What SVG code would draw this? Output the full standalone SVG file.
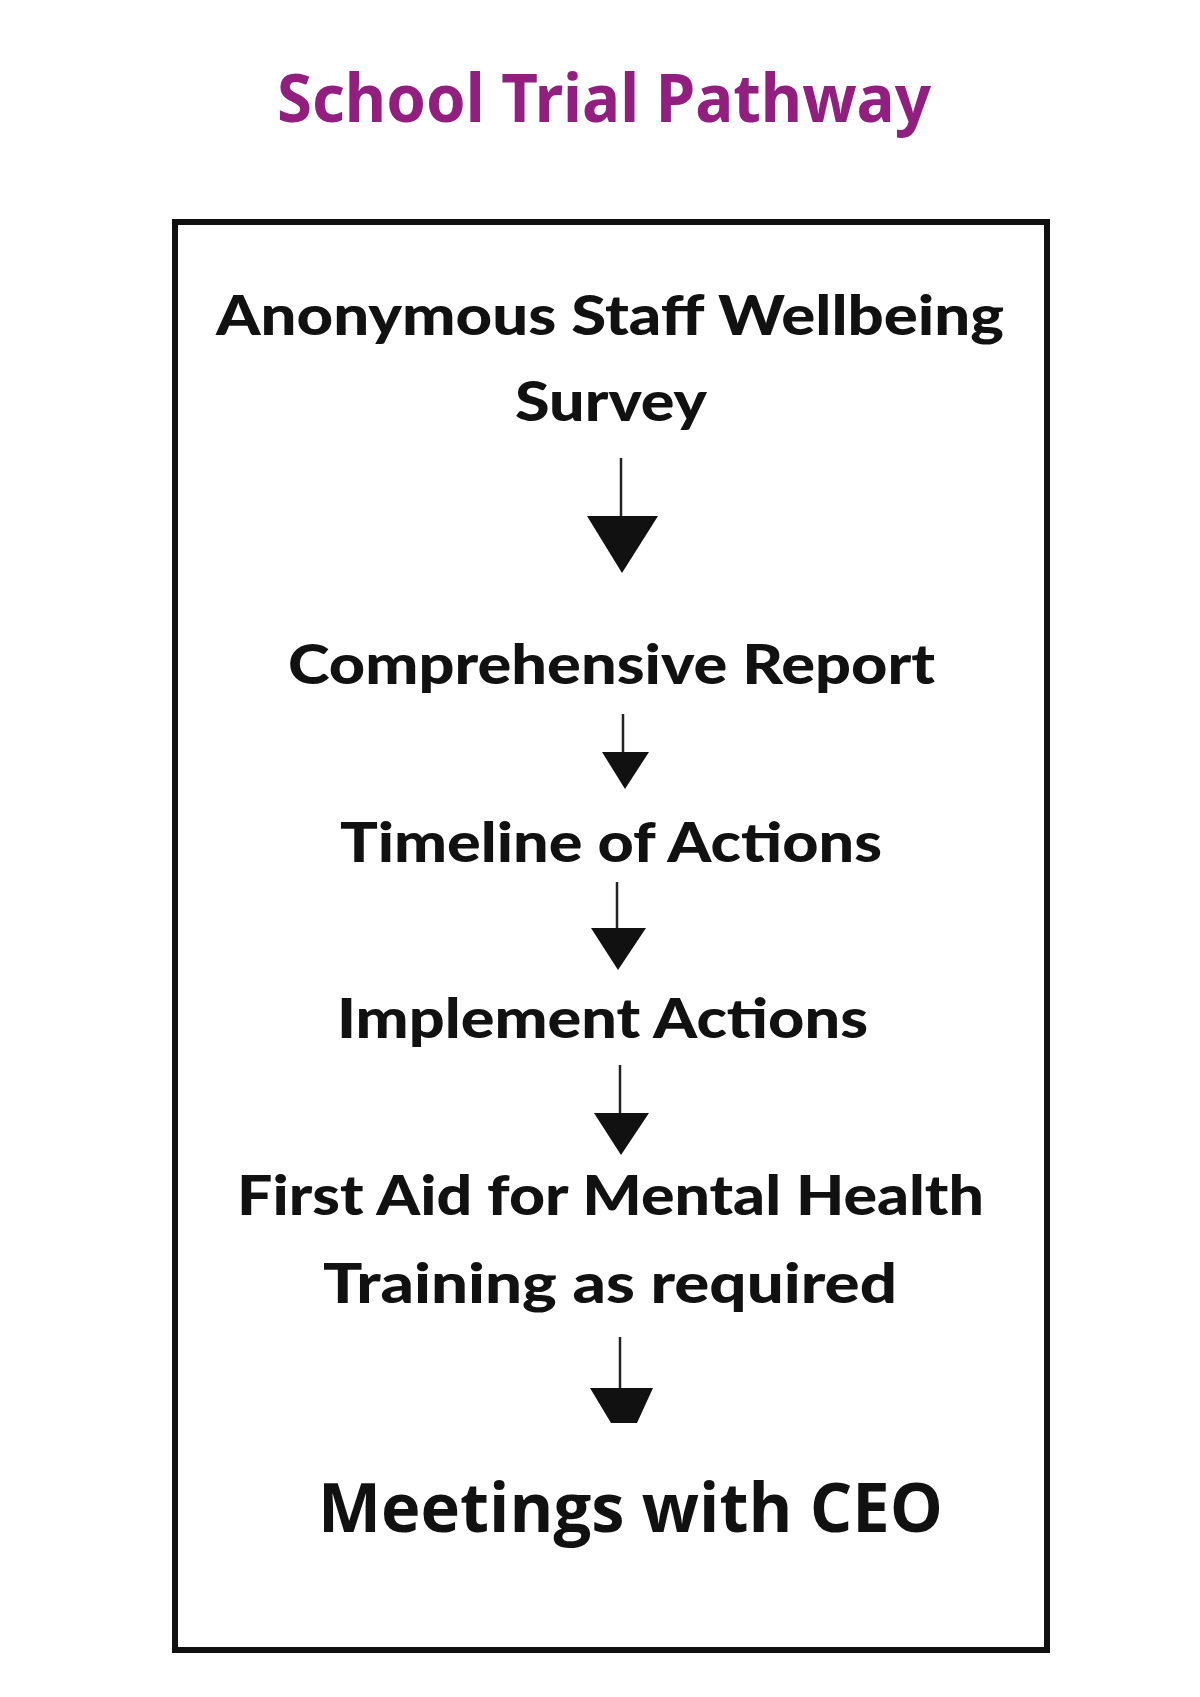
<svg xmlns="http://www.w3.org/2000/svg" width="1200" height="1697" viewBox="0 0 1200 1697">
<style>
.title{font-family:"Noto Sans","Open Sans","Liberation Sans",sans-serif;font-weight:700;font-size:66px;fill:#921f80}
.step{font-family:Lato,"Liberation Sans",sans-serif;font-weight:900;font-size:56px;fill:#111}
.ceo{font-family:"Open Sans","Noto Sans","Liberation Sans",sans-serif;font-weight:700;font-size:68px;fill:#111}
.frame{fill:#fff;stroke:#111;stroke-width:6}
.shaft{stroke:#222;stroke-width:2.5;fill:none}
.head{fill:#111;stroke:none}
</style>
<rect width="1200" height="1697" fill="#fff"/>
<g id="title">
<text class="title" x="277" y="122" textLength="654" lengthAdjust="spacingAndGlyphs">School Trial Pathway</text>
</g>
<g id="frame">
<rect class="frame" x="175" y="222" width="872" height="1428"/>
</g>
<g id="connectors">
<line class="shaft" x1="621" y1="458" x2="621" y2="520"/>
<polygon class="head" points="587,516 658,516 622,573"/>
<line class="shaft" x1="623" y1="714" x2="623" y2="755"/>
<polygon class="head" points="602,752 649,752 625,789"/>
<line class="shaft" x1="617" y1="882" x2="617" y2="932"/>
<polygon class="head" points="591,928 646,928 618,970"/>
<line class="shaft" x1="620" y1="1065" x2="620" y2="1116"/>
<polygon class="head" points="594,1113 649,1113 621,1155"/>
<line class="shaft" x1="620" y1="1337" x2="620" y2="1392"/>
<polygon class="head" points="590,1388 653,1388 637,1423 611,1423"/>
</g>
<g id="node-survey">
<text class="step" x="216" y="335" textLength="788" lengthAdjust="spacingAndGlyphs">Anonymous Staff Wellbeing</text>
<text class="step" x="515" y="421" textLength="192" lengthAdjust="spacingAndGlyphs">Survey</text>
</g>
<g id="node-report">
<text class="step" x="288" y="684" textLength="647" lengthAdjust="spacingAndGlyphs">Comprehensive Report</text>
</g>
<g id="node-timeline">
<text class="step" x="340" y="862" textLength="542" lengthAdjust="spacingAndGlyphs">Timeline of Actions</text>
</g>
<g id="node-implement">
<text class="step" x="337" y="1038" textLength="531" lengthAdjust="spacingAndGlyphs">Implement Actions</text>
</g>
<g id="node-training">
<text class="step" x="237" y="1215" textLength="747" lengthAdjust="spacingAndGlyphs">First Aid for Mental Health</text>
<text class="step" x="323" y="1303" textLength="574" lengthAdjust="spacingAndGlyphs">Training as required</text>
</g>
<g id="node-ceo">
<text class="ceo" x="318" y="1532" textLength="625" lengthAdjust="spacingAndGlyphs">Meetings with CEO</text>
</g>
</svg>
